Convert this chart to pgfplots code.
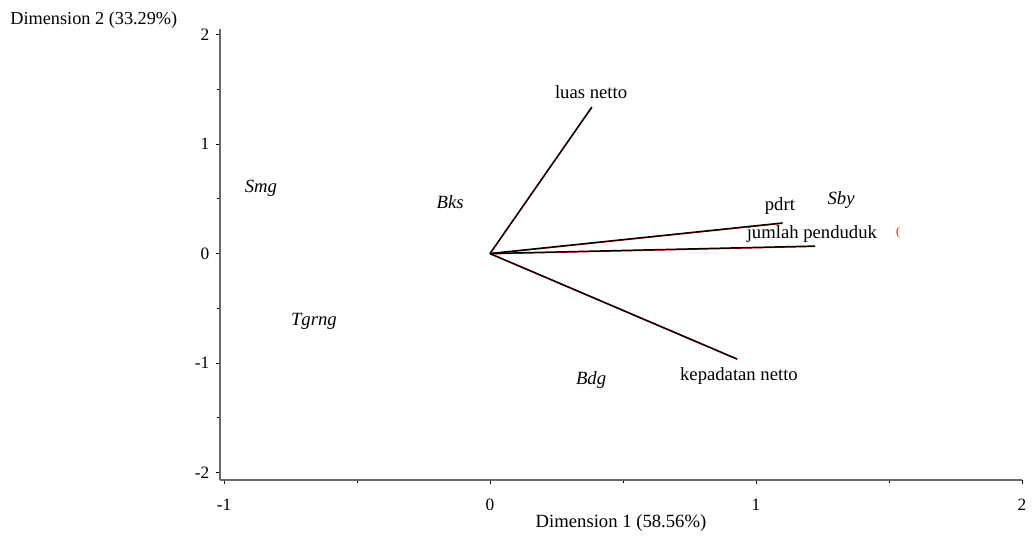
\documentclass[border=0pt]{standalone}
\usepackage{pgfplots}
\pgfplotsset{compat=1.18}
\usepackage{fontspec}
\setmainfont{Liberation Serif}
\definecolor{axgray}{RGB}{105,105,105}
\begin{document}
\begin{tikzpicture}
\useasboundingbox (-165pt,-44.25pt) rectangle (609.75pt,360pt);
\begin{axis}[
  at={(0,0)}, anchor=south west,
  scale only axis, width=601.5pt, height=338.25pt,
  xmin=-1.015, xmax=2, ymin=-2.068, ymax=2.05,
  axis x line*=bottom, axis y line*=left,
  axis line style={draw=axgray, line width=1.1pt},
  tick align=outside,
  xtick={-1,0,1,2}, xticklabels={-1,0,1,2},
  minor xtick={-0.5,0.5,1.5},
  ytick={-2,-1,0,1,2}, yticklabels={-2,-1,0,1,2},
  minor ytick={-1.5,-0.5,0.5,1.5},
  major tick length=3pt, minor tick length=2.5pt,
  every tick/.style={draw=black, line width=0.6pt},
  ticklabel style={font=\fontsize{13}{15}\selectfont},
  xticklabel style={yshift=-7.5pt},
  yticklabel style={xshift=-1.5pt},
  xlabel={Dimension 1 (58.56\%)},
  ylabel={Dimension 2 (33.29\%)},
  every axis x label/.style={at={(rel axis cs:0.5,0)}, anchor=center, yshift=-32.25pt, font=\fontsize{14}{17}\selectfont},
  every axis y label/.style={at={(rel axis cs:0,1)}, anchor=east, xshift=-28.5pt, yshift=7pt, font=\fontsize{13.7}{16}\selectfont},
  clip=false,
]
% faint red under-lines
\addplot[red, line width=0.8pt, yshift=-0.35pt, forget plot] coordinates {(0,0) (0.383,1.338)};
\addplot[red, line width=0.8pt, yshift=-0.35pt, forget plot] coordinates {(0,0) (1.10,0.279)};
\addplot[red, line width=0.8pt, yshift=-0.35pt, forget plot] coordinates {(0,0) (1.222,0.068)};
\addplot[red, line width=0.8pt, yshift=-0.35pt, forget plot] coordinates {(0,0) (0.929,-0.963)};
% vectors
\addplot[black, line width=1.1pt] coordinates {(0,0) (0.383,1.338)};
\addplot[black, line width=1.1pt] coordinates {(0,0) (1.10,0.279)};
\addplot[black, line width=1.1pt] coordinates {(0,0) (1.222,0.068)};
\addplot[black, line width=1.1pt] coordinates {(0,0) (0.929,-0.963)};
% variable labels
\addplot[draw=none, mark=none, nodes near coords, point meta=explicit symbolic,
  every node near coord/.append style={anchor=center, inner sep=0pt, font=\fontsize{14}{17}\selectfont}]
  table[meta=label, col sep=comma] {
x,y,label
0.38,1.475,luas netto
1.09,0.434,pdrt
1.21,0.178,jumlah penduduk
0.936,-1.119,kepadatan netto
};
% observation labels
\addplot[draw=none, mark=none, nodes near coords, point meta=explicit symbolic,
  every node near coord/.append style={anchor=center, inner sep=0pt, font=\fontsize{14}{17}\selectfont\itshape}]
  table[meta=label, col sep=comma] {
x,y,label
1.32,0.489,Sby
-0.861,0.598,Smg
-0.150,0.470,Bks
-0.662,-0.616,Tgrng
0.38,-1.155,Bdg
};
% small red marker fragment
\addplot[draw=none, mark=none, nodes near coords, point meta=explicit symbolic,
  every node near coord/.append style={anchor=center, inner sep=0pt, text=red, font=\fontsize{9}{10}\selectfont}]
  table[meta=label, col sep=comma] {
x,y,label
1.534,0.187,(
};
\end{axis}
\end{tikzpicture}
\end{document}
